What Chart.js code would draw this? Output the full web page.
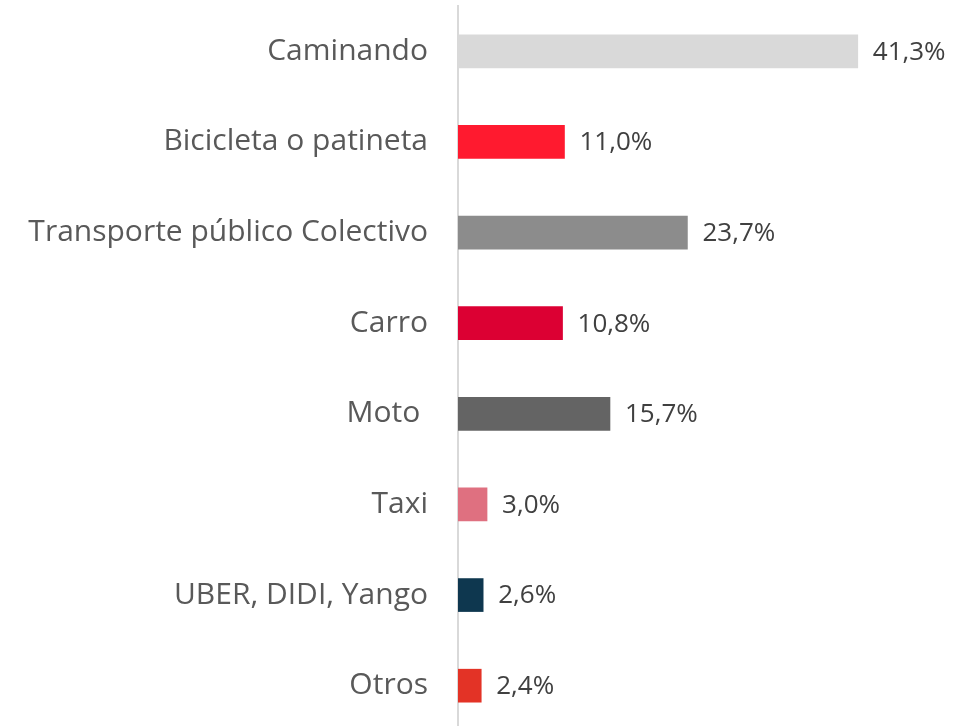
<!DOCTYPE html>
<html>
<head>
<meta charset="utf-8">
<script src="https://cdn.jsdelivr.net/npm/chart.js"></script>
<style>
  html, body { margin: 0; padding: 0; background: #fff; overflow: hidden; }
</style>
</head>
<body>
<canvas id="chart" width="971" height="732"></canvas>
<script>
// Data
const categories = ['Caminando', 'Bicicleta o patineta', 'Transporte público Colectivo', 'Carro', 'Moto ', 'Taxi', 'UBER, DIDI, Yango', 'Otros'];
const values = [41.3, 11.0, 23.7, 10.8, 15.7, 3.0, 2.6, 2.4];
const barColors = ['#d9d9d9', '#ff1a2f', '#8c8c8c', '#dc0033', '#646464', '#df7080', '#0e374f', '#e33326'];

// Draws the percentage after each bar
const valueLabels = {
  id: 'valueLabels',
  afterDatasetsDraw(chart) {
    const ctx = chart.ctx;
    const meta = chart.getDatasetMeta(0);
    ctx.save();
    ctx.font = '26px "Open Sans", sans-serif';
    ctx.fillStyle = '#404040';
    ctx.textAlign = 'left';
    ctx.textBaseline = 'middle';
    meta.data.forEach((bar, i) => {
      const txt = values[i].toFixed(1).replace('.', ',') + '%';
      ctx.fillText(txt, bar.x + 15, bar.y + 1);
    });
    ctx.restore();
  }
};

new Chart(document.getElementById('chart'), {
  type: 'bar',
  data: {
    labels: categories,
    datasets: [{
      data: values,
      backgroundColor: barColors,
      borderWidth: 0,
      barThickness: 33
    }]
  },
  options: {
    indexAxis: 'y',
    responsive: false,
    animation: false,
    layout: { padding: { top: 6, bottom: 1, right: 29, left: 0 } },
    plugins: {
      legend: { display: false },
      tooltip: { enabled: false }
    },
    scales: {
      x: {
        display: false,
        min: 0,
        max: 50
      },
      y: {
        afterFit(scale) {
          scale.width = 458;
          scale.paddingTop = 0;
          scale.paddingBottom = 0;
        },
        grid: { display: false, drawTicks: false },
        border: { display: true, color: '#d9d9d9', width: 2 },
        ticks: {
          padding: 30,
          color: '#595959',
          font: { family: '"Open Sans", sans-serif', size: 30 }
        }
      }
    }
  },
  plugins: [valueLabels]
});
</script>
</body>
</html>
